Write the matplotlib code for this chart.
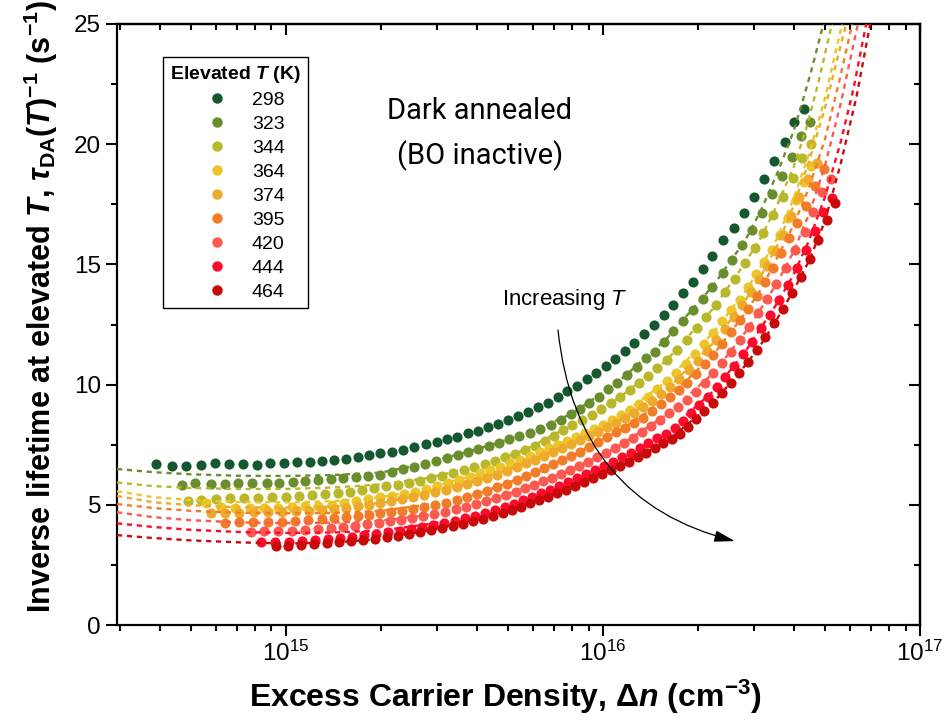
import numpy as np
import matplotlib
matplotlib.use('Agg')
import matplotlib.pyplot as plt
from matplotlib.lines import Line2D
from matplotlib.ticker import MultipleLocator, LogLocator, NullFormatter

plt.rcParams['font.family'] = ['Liberation Sans', 'DejaVu Sans']
plt.rcParams['mathtext.fontset'] = 'custom'
plt.rcParams['mathtext.rm'] = 'Liberation Sans'
plt.rcParams['mathtext.it'] = 'Liberation Sans:italic'
plt.rcParams['mathtext.bf'] = 'Liberation Sans:bold'
plt.rcParams['mathtext.bfit'] = 'Liberation Sans:bold:italic'

temps = ['298', '323', '344', '364', '374', '395', '420', '444', '464']
colors = ['#15582f', '#6a8d2d', '#b8b82a', '#ebc52a', '#eeaa2a',
          '#f27d29', '#fc5a50', '#ff0a2a', '#c70a0a']

# measured inverse lifetime, x given as log10(dn / cm^-3)
log_dn_298 = [14.590, 14.640, 14.684, 14.732, 14.776, 14.820, 14.864, 14.909, 14.950, 14.994,
              15.035, 15.076, 15.114, 15.151, 15.189, 15.227, 15.262, 15.297, 15.334, 15.369,
              15.404, 15.442, 15.476, 15.508, 15.539, 15.574, 15.606, 15.637, 15.669, 15.700,
              15.732, 15.764, 15.795, 15.827, 15.858, 15.887, 15.918, 15.950, 15.978, 16.010,
              16.038, 16.070, 16.098, 16.129, 16.161, 16.193, 16.221, 16.253, 16.284, 16.316,
              16.344, 16.379, 16.413, 16.445, 16.477, 16.508, 16.540, 16.574, 16.603, 16.634]
inv_tau_298 = [6.70, 6.61, 6.61, 6.66, 6.74, 6.70, 6.70, 6.66, 6.74, 6.74,
               6.78, 6.78, 6.82, 6.86, 6.91, 6.99, 7.07, 7.15, 7.20, 7.28,
               7.40, 7.53, 7.61, 7.74, 7.82, 7.99, 8.07, 8.24, 8.36, 8.53,
               8.69, 8.86, 9.07, 9.23, 9.48, 9.73, 9.94, 10.23, 10.48, 10.77,
               11.06, 11.40, 11.73, 12.10, 12.48, 12.90, 13.31, 13.81, 14.27, 14.81,
               15.35, 16.01, 16.51, 17.14, 17.80, 18.55, 19.30, 20.09, 20.92, 21.46]

log_dn_323 = [14.672, 14.713, 14.763, 14.808, 14.849, 14.893, 14.940, 14.978, 15.022, 15.060,
              15.101, 15.142, 15.180, 15.221, 15.259, 15.297, 15.334, 15.369, 15.404, 15.438,
              15.473, 15.508, 15.543, 15.574, 15.606, 15.640, 15.672, 15.703, 15.735, 15.770,
              15.801, 15.836, 15.868, 15.899, 15.927, 15.956, 15.987, 16.016, 16.044, 16.076,
              16.107, 16.136, 16.164, 16.192, 16.221, 16.252, 16.284, 16.315, 16.344, 16.379,
              16.407, 16.439, 16.470, 16.502, 16.533, 16.565, 16.596, 16.625, 16.653]
inv_tau_323 = [5.82, 5.91, 5.87, 5.87, 5.91, 5.91, 5.91, 5.91, 5.95, 5.99,
               6.03, 6.07, 6.11, 6.16, 6.20, 6.24, 6.36, 6.49, 6.57, 6.70,
               6.82, 6.95, 7.07, 7.20, 7.32, 7.45, 7.57, 7.74, 7.86, 7.99,
               8.15, 8.32, 8.53, 8.78, 8.99, 9.23, 9.48, 9.82, 10.07, 10.40,
               10.73, 11.11, 11.36, 11.77, 12.23, 12.65, 13.10, 13.56, 14.06, 14.64,
               15.18, 15.81, 16.43, 17.14, 17.93, 18.68, 19.47, 20.34, 20.92]

log_dn_344 = [14.691, 14.732, 14.779, 14.823, 14.868, 14.912, 14.956, 15.000, 15.041, 15.082,
              15.123, 15.164, 15.202, 15.240, 15.278, 15.315, 15.353, 15.388, 15.423, 15.457,
              15.492, 15.527, 15.562, 15.593, 15.628, 15.659, 15.691, 15.722, 15.754, 15.785,
              15.817, 15.845, 15.874, 15.902, 15.934, 15.965, 15.994, 16.025, 16.054, 16.085,
              16.114, 16.142, 16.170, 16.202, 16.233, 16.265, 16.297, 16.325, 16.356, 16.385,
              16.416, 16.448, 16.479, 16.505, 16.536, 16.568, 16.599, 16.628, 16.656]
inv_tau_344 = [5.16, 5.20, 5.24, 5.28, 5.28, 5.28, 5.32, 5.32, 5.37, 5.41,
               5.45, 5.49, 5.53, 5.62, 5.70, 5.78, 5.82, 5.91, 5.99, 6.11,
               6.20, 6.32, 6.45, 6.57, 6.70, 6.82, 6.99, 7.11, 7.28, 7.45,
               7.65, 7.86, 8.11, 8.32, 8.53, 8.74, 8.99, 9.23, 9.48, 9.78,
               10.07, 10.36, 10.69, 11.02, 11.44, 11.86, 12.35, 12.81, 13.31, 13.85,
               14.39, 15.06, 15.68, 16.31, 17.05, 17.80, 18.59, 19.43, 20.01]

log_dn_364 = [14.748, 14.795, 14.839, 14.886, 14.931, 14.975, 15.019, 15.060, 15.101, 15.145,
              15.183, 15.221, 15.259, 15.297, 15.334, 15.372, 15.407, 15.442, 15.476, 15.511,
              15.546, 15.580, 15.612, 15.644, 15.675, 15.707, 15.738, 15.770, 15.801, 15.830,
              15.858, 15.886, 15.915, 15.943, 15.972, 16.000, 16.028, 16.057, 16.085, 16.114,
              16.142, 16.170, 16.202, 16.230, 16.262, 16.290, 16.319, 16.347, 16.375, 16.404,
              16.432, 16.457, 16.483, 16.508, 16.533, 16.558, 16.584, 16.609, 16.634, 16.656]
inv_tau_364 = [5.07, 4.91, 4.87, 4.87, 4.87, 4.87, 4.91, 4.95, 4.95, 4.99,
               5.07, 5.16, 5.24, 5.32, 5.37, 5.45, 5.53, 5.66, 5.78, 5.91,
               6.03, 6.16, 6.32, 6.45, 6.57, 6.74, 6.86, 7.03, 7.20, 7.36,
               7.49, 7.65, 7.82, 7.99, 8.15, 8.32, 8.53, 8.74, 8.94, 9.19,
               9.48, 9.82, 10.15, 10.48, 10.86, 11.27, 11.69, 12.15, 12.65, 13.10,
               13.52, 14.06, 14.60, 15.10, 15.60, 16.22, 16.93, 17.68, 18.43, 19.09]

log_dn_374 = [14.763, 14.808, 14.852, 14.899, 14.943, 14.987, 15.032, 15.073, 15.114, 15.151,
              15.189, 15.227, 15.262, 15.297, 15.331, 15.366, 15.401, 15.435, 15.470, 15.505,
              15.539, 15.571, 15.603, 15.634, 15.666, 15.697, 15.729, 15.757, 15.785, 15.814,
              15.842, 15.871, 15.899, 15.927, 15.956, 15.984, 16.013, 16.041, 16.069, 16.098,
              16.126, 16.155, 16.183, 16.211, 16.240, 16.271, 16.300, 16.328, 16.356, 16.385,
              16.413, 16.438, 16.467, 16.492, 16.517, 16.543, 16.568, 16.593, 16.618, 16.647,
              16.675]
inv_tau_374 = [4.66, 4.66, 4.66, 4.70, 4.70, 4.70, 4.74, 4.74, 4.78, 4.83,
               4.87, 4.95, 4.99, 5.07, 5.16, 5.24, 5.32, 5.41, 5.53, 5.62,
               5.74, 5.87, 5.99, 6.11, 6.24, 6.41, 6.57, 6.74, 6.86, 7.03,
               7.20, 7.36, 7.53, 7.70, 7.86, 8.03, 8.24, 8.40, 8.61, 8.82,
               9.07, 9.32, 9.61, 9.90, 10.23, 10.61, 10.98, 11.40, 11.86, 12.31,
               12.81, 13.31, 13.85, 14.39, 14.93, 15.56, 16.22, 17.01, 17.80, 18.55,
               19.22]

log_dn_395 = [14.808, 14.852, 14.896, 14.943, 14.987, 15.028, 15.069, 15.114, 15.151, 15.189,
              15.227, 15.262, 15.297, 15.331, 15.366, 15.401, 15.435, 15.470, 15.505, 15.539,
              15.571, 15.603, 15.634, 15.666, 15.697, 15.729, 15.757, 15.785, 15.814, 15.842,
              15.871, 15.899, 15.927, 15.956, 15.984, 16.013, 16.041, 16.069, 16.098, 16.126,
              16.155, 16.183, 16.211, 16.240, 16.265, 16.293, 16.322, 16.347, 16.375, 16.404,
              16.432, 16.457, 16.486, 16.511, 16.536, 16.562, 16.587, 16.612, 16.640, 16.669,
              16.697]
inv_tau_395 = [4.24, 4.28, 4.28, 4.28, 4.28, 4.33, 4.37, 4.41, 4.45, 4.49,
               4.53, 4.58, 4.66, 4.70, 4.74, 4.83, 4.91, 4.99, 5.07, 5.20,
               5.32, 5.45, 5.57, 5.74, 5.87, 6.03, 6.20, 6.36, 6.53, 6.70,
               6.86, 7.03, 7.20, 7.40, 7.61, 7.82, 8.03, 8.19, 8.40, 8.61,
               8.90, 9.19, 9.48, 9.78, 10.07, 10.44, 10.86, 11.23, 11.69, 12.19,
               12.69, 13.14, 13.69, 14.27, 14.85, 15.47, 16.10, 16.72, 17.43, 18.26,
               18.97]

log_dn_420 = [14.890, 14.931, 14.975, 15.019, 15.060, 15.101, 15.142, 15.180, 15.218, 15.256,
              15.293, 15.328, 15.363, 15.397, 15.432, 15.467, 15.502, 15.536, 15.568, 15.599,
              15.631, 15.662, 15.694, 15.726, 15.754, 15.782, 15.811, 15.839, 15.868, 15.896,
              15.924, 15.953, 15.981, 16.009, 16.038, 16.066, 16.095, 16.123, 16.151, 16.180,
              16.208, 16.237, 16.265, 16.293, 16.322, 16.347, 16.375, 16.404, 16.432, 16.461,
              16.489, 16.517, 16.546, 16.577, 16.606, 16.637, 16.662, 16.691, 16.719]
inv_tau_420 = [3.87, 3.91, 3.91, 3.91, 3.95, 3.99, 4.03, 4.08, 4.12, 4.20,
               4.24, 4.33, 4.37, 4.45, 4.53, 4.62, 4.70, 4.83, 4.91, 5.03,
               5.16, 5.28, 5.41, 5.53, 5.70, 5.82, 5.99, 6.11, 6.28, 6.45,
               6.61, 6.78, 6.99, 7.15, 7.36, 7.57, 7.78, 8.03, 8.28, 8.53,
               8.82, 9.07, 9.36, 9.69, 10.07, 10.48, 10.90, 11.36, 11.86, 12.40,
               12.98, 13.56, 14.18, 14.85, 15.60, 16.35, 17.18, 18.01, 18.55]

log_dn_444 = [14.921, 14.965, 15.009, 15.050, 15.091, 15.132, 15.170, 15.208, 15.246, 15.284,
              15.322, 15.360, 15.394, 15.429, 15.464, 15.498, 15.533, 15.565, 15.596, 15.628,
              15.659, 15.691, 15.719, 15.748, 15.776, 15.804, 15.833, 15.861, 15.890, 15.918,
              15.946, 15.975, 16.003, 16.032, 16.060, 16.088, 16.117, 16.142, 16.170, 16.199,
              16.227, 16.252, 16.278, 16.303, 16.331, 16.360, 16.385, 16.413, 16.442, 16.470,
              16.498, 16.527, 16.555, 16.584, 16.612, 16.640, 16.669, 16.694, 16.722]
inv_tau_444 = [3.45, 3.45, 3.45, 3.49, 3.54, 3.58, 3.62, 3.66, 3.74, 3.79,
               3.87, 3.91, 3.99, 4.08, 4.16, 4.24, 4.33, 4.45, 4.53, 4.66,
               4.78, 4.91, 5.03, 5.20, 5.32, 5.49, 5.62, 5.78, 5.95, 6.11,
               6.28, 6.45, 6.61, 6.78, 6.99, 7.15, 7.36, 7.57, 7.78, 7.95,
               8.19, 8.49, 8.82, 9.15, 9.48, 9.90, 10.32, 10.77, 11.27, 11.77,
               12.35, 12.90, 13.52, 14.14, 14.85, 15.60, 16.39, 17.18, 17.76]

log_dn_464 = [14.968, 15.006, 15.047, 15.088, 15.129, 15.167, 15.205, 15.243, 15.281, 15.319,
              15.353, 15.388, 15.423, 15.457, 15.492, 15.527, 15.558, 15.590, 15.621, 15.653,
              15.685, 15.713, 15.741, 15.770, 15.798, 15.827, 15.855, 15.883, 15.912, 15.940,
              15.968, 15.997, 16.025, 16.054, 16.082, 16.110, 16.136, 16.164, 16.189, 16.218,
              16.243, 16.268, 16.293, 16.319, 16.347, 16.375, 16.404, 16.429, 16.457, 16.486,
              16.511, 16.539, 16.568, 16.596, 16.625, 16.653, 16.678, 16.707, 16.732]
inv_tau_464 = [3.29, 3.29, 3.33, 3.37, 3.41, 3.45, 3.49, 3.54, 3.58, 3.66,
               3.70, 3.79, 3.87, 3.95, 4.03, 4.12, 4.20, 4.33, 4.41, 4.53,
               4.66, 4.78, 4.91, 5.07, 5.20, 5.32, 5.49, 5.62, 5.78, 5.95,
               6.11, 6.28, 6.45, 6.61, 6.78, 6.99, 7.15, 7.36, 7.57, 7.74,
               7.95, 8.24, 8.57, 8.90, 9.23, 9.65, 10.07, 10.48, 10.94, 11.44,
               11.98, 12.56, 13.14, 13.81, 14.48, 15.23, 16.01, 16.85, 17.55]

# fitted curves (dashed)
fit_log_dn_323 = [14.467, 14.58, 14.70, 14.85, 15.00, 15.15, 15.30, 15.45, 15.60, 15.75, 15.90,
                  16.05, 16.20, 16.35, 16.45, 16.50, 16.55, 16.60, 16.63, 16.66, 16.695, 16.74]
fit_323 = [6.49, 6.36, 6.27, 6.21, 6.20, 6.24, 6.34, 6.76, 7.31, 7.92, 8.78,
           10.13, 11.90, 14.16, 16.03, 17.3, 18.8, 20.5, 21.8, 23.2, 25.0, 27.5]

fit_log_dn_344 = [14.467, 14.58, 14.70, 14.85, 15.00, 15.15, 15.30, 15.45, 15.60, 15.75, 15.90,
                  16.05, 16.20, 16.35, 16.45, 16.50, 16.55, 16.60, 16.64, 16.68, 16.722, 16.76]
fit_344 = [5.93, 5.78, 5.70, 5.66, 5.66, 5.72, 5.85, 6.12, 6.60, 7.26, 8.30,
           9.44, 11.0, 13.2, 15.1, 16.15, 17.5, 19.0, 20.6, 22.6, 25.0, 27.4]

fit_log_dn_364 = [14.467, 14.58, 14.70, 14.85, 15.00, 15.15, 15.30, 15.45, 15.60, 15.75, 15.90,
                  16.05, 16.20, 16.35, 16.45, 16.50, 16.55, 16.60, 16.65, 16.70, 16.754, 16.79]
fit_364 = [5.57, 5.32, 5.20, 5.12, 5.10, 5.15, 5.32, 5.69, 6.26, 6.92, 7.73,
           8.69, 10.13, 12.2, 13.9, 14.95, 16.1, 17.7, 19.6, 21.9, 25.0, 27.3]

fit_log_dn_374 = [14.467, 14.58, 14.70, 14.85, 15.00, 15.15, 15.30, 15.45, 15.60, 15.75, 15.90,
                  16.05, 16.20, 16.35, 16.45, 16.50, 16.55, 16.60, 16.65, 16.70, 16.767, 16.80]
fit_374 = [5.37, 5.11, 4.98, 4.90, 4.88, 4.93, 5.08, 5.46, 5.98, 6.70, 7.54,
           8.47, 9.78, 11.76, 13.53, 14.56, 15.8, 17.4, 19.3, 21.5, 25.0, 27.0]

fit_log_dn_395 = [14.467, 14.58, 14.70, 14.85, 15.00, 15.15, 15.30, 15.45, 15.60, 15.75, 15.90,
                  16.05, 16.20, 16.35, 16.45, 16.50, 16.55, 16.60, 16.65, 16.70, 16.745, 16.786, 16.82]
fit_395 = [5.03, 4.87, 4.75, 4.67, 4.65, 4.66, 4.75, 5.02, 5.44, 6.16, 7.03,
           8.08, 9.36, 11.28, 13.0, 14.0, 15.3, 16.6, 18.2, 20.2, 22.6, 25.0, 27.2]

fit_log_dn_420 = [14.467, 14.58, 14.70, 14.85, 15.00, 15.15, 15.30, 15.45, 15.60, 15.75, 15.90,
                  16.05, 16.20, 16.35, 16.45, 16.50, 16.55, 16.60, 16.65, 16.70, 16.75, 16.804, 16.84]
fit_420 = [4.69, 4.49, 4.36, 4.27, 4.24, 4.26, 4.34, 4.58, 5.03, 5.68, 6.47,
           7.45, 8.74, 10.5, 12.2, 13.2, 14.25, 15.5, 17.1, 19.1, 21.7, 25.0, 27.4]

fit_log_dn_444 = [14.467, 14.58, 14.70, 14.85, 15.00, 15.15, 15.30, 15.45, 15.60, 15.75, 15.90,
                  16.05, 16.20, 16.35, 16.45, 16.50, 16.55, 16.60, 16.65, 16.70, 16.75, 16.79,
                  16.83, 16.87]
fit_444 = [4.23, 4.08, 3.96, 3.87, 3.83, 3.85, 3.93, 4.20, 4.55, 5.20, 5.99,
           6.94, 8.0, 9.75, 11.4, 12.4, 13.4, 14.55, 16.0, 17.8, 20.1, 22.3, 25.0, 28.0]

fit_log_dn_464 = [14.467, 14.58, 14.70, 14.85, 15.00, 15.15, 15.30, 15.45, 15.60, 15.75, 15.90,
                  16.05, 16.20, 16.35, 16.45, 16.50, 16.55, 16.60, 16.65, 16.70, 16.75, 16.80,
                  16.84, 16.88]
fit_464 = [3.74, 3.62, 3.52, 3.44, 3.39, 3.43, 3.58, 3.93, 4.36, 4.96, 5.71,
           6.59, 7.62, 9.28, 10.82, 11.7, 12.75, 13.9, 15.15, 16.8, 19.2, 22.0, 24.8, 27.8]

data = [(log_dn_298, inv_tau_298), (log_dn_323, inv_tau_323), (log_dn_344, inv_tau_344),
        (log_dn_364, inv_tau_364), (log_dn_374, inv_tau_374), (log_dn_395, inv_tau_395),
        (log_dn_420, inv_tau_420), (log_dn_444, inv_tau_444), (log_dn_464, inv_tau_464)]
fits = [None, (fit_log_dn_323, fit_323), (fit_log_dn_344, fit_344), (fit_log_dn_364, fit_364),
        (fit_log_dn_374, fit_374), (fit_log_dn_395, fit_395), (fit_log_dn_420, fit_420),
        (fit_log_dn_444, fit_444), (fit_log_dn_464, fit_464)]

fig = plt.figure(figsize=(9.53, 7.2), dpi=100)
ax = fig.add_axes([0.1228, 0.1319, 0.8426, 0.8348])

for i, (lx, y) in enumerate(data):
    ax.plot(10 ** np.array(lx), y, 'o', ms=7.3, color=colors[i], mec='none', zorder=2 + 0.01 * i)

for i, f in enumerate(fits):
    if f is None:
        continue
    ax.plot(10 ** np.array(f[0]), f[1], ls=(0, (2.2, 2.0)), lw=1.7, color=colors[i], zorder=3)

ax.set_xscale('log')
ax.set_xlim(10 ** 14.467, 1e17)
ax.set_ylim(0, 25)
ax.set_yticks([0, 5, 10, 15, 20, 25])
ax.yaxis.set_minor_locator(MultipleLocator(2.5))
ax.xaxis.set_major_locator(LogLocator(base=10, numticks=10))
ax.xaxis.set_minor_locator(LogLocator(base=10, subs=np.arange(2, 10), numticks=20))
ax.xaxis.set_minor_formatter(NullFormatter())
ax.tick_params(which='major', direction='out', length=8, width=1.5, labelsize=17.5)
ax.tick_params(which='minor', direction='out', length=4.5, width=1.5)
for s in ax.spines.values():
    s.set_linewidth(1.6)

top = ax.secondary_xaxis('top')
top.xaxis.set_major_locator(LogLocator(base=10, numticks=10))
top.xaxis.set_minor_locator(LogLocator(base=10, subs=np.arange(2, 10), numticks=20))
top.tick_params(which='both', direction='in', labeltop=False, width=1.5)
top.tick_params(which='major', length=8)
top.tick_params(which='minor', length=4.5)
top.xaxis.set_minor_formatter(NullFormatter())
top.spines['top'].set_linewidth(1.6)
right = ax.secondary_yaxis('right')
right.set_yticks([0, 5, 10, 15, 20, 25])
right.yaxis.set_minor_locator(MultipleLocator(2.5))
right.tick_params(which='both', direction='in', labelright=False, width=1.5)
right.tick_params(which='major', length=8)
right.tick_params(which='minor', length=4.5)
right.spines['right'].set_linewidth(1.6)

ax.set_xlabel(r'Excess Carrier Density, $\mathbf{\Delta}\mathbfit{n}$ (cm$^{\mathbf{-3}}$)',
              fontsize=23, fontweight='bold')
ax.set_ylabel(r'Inverse lifetime at elevated $\mathbfit{T}$, '
              r'$\mathbfit{\tau}_{\mathbf{DA}}\mathbf{(}\mathbfit{T}\mathbf{)}^{\mathbf{-1}}$ '
              r'(s$^{\mathbf{-1}}$)', fontsize=22, fontweight='bold')
ax.xaxis.set_label_coords(0.483, -0.087)
ax.yaxis.set_label_coords(-0.071, 0.53)

handles = [Line2D([], [], ls='none', marker='o', ms=7.5, color=c, mec='none') for c in colors]
leg = ax.legend(handles, temps, title=r'Elevated $\mathbfit{T}$ (K)', loc='upper left',
                bbox_to_anchor=(0.0573, 0.945), fontsize=14,
                title_fontproperties={'weight': 'bold', 'size': 14},
                frameon=True, fancybox=False, edgecolor='black', framealpha=1,
                handlelength=3.2, handletextpad=0.2, labelspacing=0.33,
                borderpad=0.35, borderaxespad=0)
leg.get_frame().set_linewidth(1.0)

ax.text(10 ** 15.612, 21.38, 'Dark annealed', ha='center', va='center',
        fontsize=21, family='Roboto')
ax.text(10 ** 15.612, 19.51, '(BO inactive)', ha='center', va='center',
        fontsize=21, family='Roboto')
ax.text(10 ** 15.88, 13.52, r'Increasing $T$', ha='center', va='center', fontsize=16)
ax.annotate('', xy=(10 ** 16.416, 3.49), xytext=(10 ** 15.858, 12.27),
            arrowprops=dict(arrowstyle='-|>,head_length=0.9,head_width=0.25',
                            connectionstyle='angle3,angleA=-84,angleB=166',
                            color='black', lw=0.9, mutation_scale=14,
                            shrinkA=0, shrinkB=0))

fig.savefig('out.png', dpi=100)
